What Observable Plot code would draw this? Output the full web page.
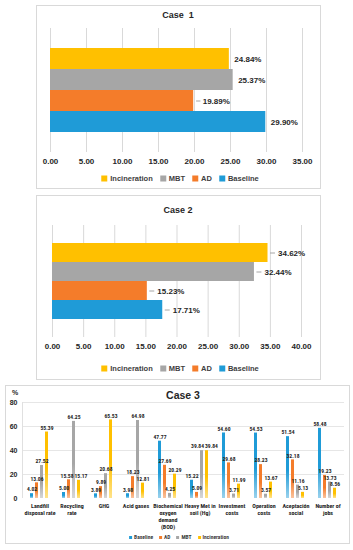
<!DOCTYPE html>
<html>
<head>
<meta charset="utf-8">
<script src="https://cdn.jsdelivr.net/npm/d3@7"></script>
<script src="https://cdn.jsdelivr.net/npm/@observablehq/plot@0.6"></script>
<style>
  html, body { margin: 0; padding: 0; background: #fff; }
  #root { position: relative; width: 353px; height: 550px; overflow: hidden; font-family: "Liberation Sans", Arial, sans-serif; color: #262626; }
  .box { position: absolute; border: 1px solid #d9d9d9; box-sizing: border-box; background: #fff; }
  .title { position: absolute; font-weight: bold; white-space: pre; transform: translate(-50%, -50%); color: #262626; }
  .legend { position: absolute; display: flex; align-items: center; transform: translate(-50%, -50%); font-weight: bold; white-space: nowrap; color: #404040; }
  .legend .item { display: flex; align-items: center; }
  .legend .sw { display: inline-block; }
</style>
</head>
<body>
<div id="root"></div>
<script>
// ---------------- DATA ----------------
const seriesOrder = ["Incineration", "MBT", "AD", "Baseline"];
const seriesColors = ["#ffc000", "#a6a6a6", "#f47c2a", "#1f9bd7"];

const case1Values = [24.84, 25.37, 19.89, 29.90];
const case1Ticks = [0, 5, 10, 15, 20, 25, 30, 35];

const case2Values = [34.62, 32.44, 15.23, 17.71];
const case2Ticks = [0, 5, 10, 15, 20, 25, 30, 35, 40];

const case3Categories = ["Landfill disposal rate", "Recycling rate", "GHG", "Acid gases",
  "Biochemical oxygen demand (BOD)", "Heavy Met in soil (Hg)", "Investment costs",
  "Operation costs", "Aceptación social", "Number of jobs"];
const case3TickLabels = ["Landfill\ndisposal rate", "Recycling\nrate", "GHG", "Acid gases",
  "Biochemical\noxygen\ndemand\n(BOD)", "Heavy Met in\nsoil (Hg)", "Investment\ncosts",
  "Operation\ncosts", "Aceptación\nsocial", "Number of\njobs"];
const case3Series = ["Baseline", "AD", "MBT", "Incineration"];
const case3Baseline     = [4.02, 5.00, 3.89, 3.98, 47.77, 15.22, 54.60, 54.53, 51.54, 58.48];
const case3AD           = [13.06, 15.58, 9.89, 18.23, 27.69, 5.09, 29.68, 28.23, 32.18, 19.23];
const case3MBT          = [27.52, 64.25, 20.68, 64.98, 4.25, 39.84, 3.71, 3.57, 11.16, 13.73];
const case3Incineration = [55.39, 15.17, 65.53, 12.81, 20.29, 39.84, 11.99, 13.67, 5.13, 8.56];
const case3Ticks = [0, 20, 40, 60, 80];

// ---------------- HELPERS ----------------
const FONT = '"Liberation Sans", Arial, sans-serif';
// use a narrow face for the dense Case 3 labels when one is installed
const NARROW_CANDIDATES = ['"Liberation Sans Narrow"', '"Roboto Condensed"', '"Open Sans Condensed"'];
function measure(font) {
  const ctx = document.createElement("canvas").getContext("2d");
  ctx.font = "bold 20px " + font;
  return ctx.measureText("Biochemical Heavy Met in").width;
}
const baseW = measure(FONT);
let NARROW = null;
for (const f of NARROW_CANDIDATES) {
  const w = measure(f + ", " + FONT);
  if (w < baseW * 0.92) { NARROW = f + ", " + FONT; break; }
}
const C3FONT = NARROW || FONT;
const C3CAT_SIZE = NARROW ? 6 : 5.2;
const C3VAL_SIZE = NARROW ? 5.6 : 5.1;

const root = document.getElementById("root");
const colorOf = s => seriesColors[seriesOrder.indexOf(s)];

function place(el, left, top) {
  el.style.position = "absolute";
  el.style.left = left + "px";
  el.style.top = top + "px";
  root.appendChild(el);
  return el;
}
function box(left, top, w, h) {
  const d = document.createElement("div");
  d.className = "box";
  d.style.width = w + "px"; d.style.height = h + "px";
  return place(d, left, top);
}
function title(text, cx, cy, size) {
  const d = document.createElement("div");
  d.className = "title";
  d.textContent = text;
  d.style.fontSize = size + "px";
  return place(d, cx, cy);
}
function legend(items, cx, cy, size, sw, gap, swGap, font) {
  const d = document.createElement("div");
  d.className = "legend";
  d.style.fontSize = size + "px";
  d.style.gap = gap + "px";
  if (font) d.style.fontFamily = font;
  items.forEach(s => {
    const it = document.createElement("div");
    it.className = "item";
    const m = document.createElement("span");
    m.className = "sw";
    m.style.width = sw + "px"; m.style.height = sw + "px";
    m.style.background = colorOf(s);
    m.style.marginRight = swGap + "px";
    it.appendChild(m);
    it.appendChild(document.createTextNode(s));
    d.appendChild(it);
  });
  return place(d, cx, cy);
}

function hbar(values, ticks, o) {
  const data = seriesOrder.map((s, i) => ({series: s, value: values[i]}));
  const fmt = d3.format(".2f");
  const leaderData = data.filter(d => o.leaders.includes(d.series));
  return Plot.plot({
    width: o.width, height: o.height,
    marginLeft: o.ml, marginRight: o.mr, marginTop: o.mt, marginBottom: o.mb,
    style: {fontFamily: FONT, background: "transparent", overflow: "visible"},
    x: {domain: [0, ticks[ticks.length - 1]], label: null},
    y: {domain: seriesOrder, paddingInner: 0, paddingOuter: o.pad, axis: null},
    color: {domain: seriesOrder, range: seriesColors},
    marks: [
      Plot.gridX(ticks, {stroke: "#d9d9d9", strokeOpacity: 1}),
      Plot.axisX(ticks, {tickSize: 0, tickPadding: 6, fontSize: 8, fontWeight: "bold", fill: "#262626", tickFormat: fmt, label: null}),
      Plot.barX(data, {y: "series", x: "value", fill: "series"}),
      Plot.ruleY(leaderData, {y: "series", x1: d => d.value + o.l1, x2: d => d.value + o.l2, stroke: "#a6a6a6"}),
      Plot.text(data, {y: "series", x: "value", text: d => fmt(d.value) + "%", textAnchor: "start",
        fontSize: 8, fontWeight: "bold", fill: "#262626"})
    ]
  });
}

// ---------------- CASE 1 ----------------
box(36, 5, 285, 184);
const c1 = hbar(case1Values, case1Ticks, {
  width: 284, height: 183, ml: 14, mr: 18, mt: 23, mb: 36, pad: 0.85,
  leaders: ["AD"], l1: 0.4, l2: 1.0
});
d3.select(c1).selectAll("g[aria-label='text'] text").each(function(_, i) {
  d3.select(this).attr("dx", seriesOrder[i] === "AD" ? 9 : 5);
});
place(c1, 36, 5);
title("Case  1", 178, 15, 9);
legend(seriesOrder, 180, 178, 7.5, 6, 7, 3);

// ---------------- CASE 2 ----------------
box(36, 195, 285, 185);
const c2 = hbar(case2Values, case2Ticks, {
  width: 284, height: 185, ml: 16, mr: 19, mt: 30, mb: 43, pad: 0.835,
  leaders: seriesOrder, l1: 0.4, l2: 1.2
});
d3.select(c2).selectAll("g[aria-label='text'] text").attr("dx", 10);
place(c2, 36, 195);
title("Case 2", 178, 210, 9);
legend(seriesOrder, 180, 368, 7.5, 6, 7, 3);

// ---------------- CASE 3 ----------------
box(5, 385, 345, 159);
const seriesVals = {Baseline: case3Baseline, AD: case3AD, MBT: case3MBT, Incineration: case3Incineration};
const data3 = case3Categories.flatMap((c, i) => case3Series.map(s => ({category: c, series: s, value: seriesVals[s][i]})));
const labelOf = new Map(case3Categories.map((c, i) => [c, case3TickLabels[i]]));
const c3 = Plot.plot({
  width: 343, height: 158,
  marginLeft: 17, marginRight: 4, marginTop: 17, marginBottom: 45,
  style: {fontFamily: FONT, background: "transparent", overflow: "visible"},
  fx: {domain: case3Categories, paddingInner: 0.35, paddingOuter: 0.175, label: null},
  x: {domain: case3Series, paddingInner: 0.35, paddingOuter: 0, axis: null},
  y: {domain: [0, 80], label: null},
  color: {domain: case3Series, range: case3Series.map((s, i) => `url(#c3grad${i})`)},
  marks: [
    Plot.ruleY(case3Ticks.filter(t => t > 0), {stroke: "#e6e6e6", insetLeft: -6, insetRight: -6}),
    Plot.axisY(case3Ticks, {tickSize: 0, tickPadding: 12, fontSize: 7, fontWeight: "bold", fill: "#262626", label: null}),
    Plot.axisFx({anchor: "bottom", tickSize: 0, tickPadding: 5, fontSize: C3CAT_SIZE, fontWeight: "bold", fill: "#262626",
      fontFamily: C3FONT, lineHeight: 1.15, tickFormat: d => labelOf.get(d), label: null}),
    Plot.barY(data3, {fx: "category", x: "series", y: "value", fill: "series"}),
    Plot.text(data3, {fx: "category", x: "series", y: "value", text: d => d.value.toFixed(2), dy: -4,
      fontSize: C3VAL_SIZE, fontFamily: C3FONT, fontWeight: "bold", fill: "#262626"})
  ]
});
const defs = d3.select(c3).insert("defs", ":first-child");
case3Series.forEach((s, i) => {
  const base = d3.color(colorOf(s)).formatHex();
  const light = d3.interpolateRgb(colorOf(s), "#ffffff")(0.55);
  const g = defs.append("linearGradient").attr("id", `c3grad${i}`)
    .attr("x1", 0).attr("y1", 0).attr("x2", 0).attr("y2", 1);
  g.append("stop").attr("offset", "0%").attr("stop-color", base);
  g.append("stop").attr("offset", "55%").attr("stop-color", base);
  g.append("stop").attr("offset", "100%").attr("stop-color", light);
});
place(c3, 5, 385);

// nudge colliding value labels apart horizontally (like the spreadsheet's label placement)
(function separateLabels() {
  const groups = d3.select(c3).selectAll("g[aria-label='text']").nodes();
  const valueGroup = groups[groups.length - 1];
  const texts = Array.from(valueGroup.querySelectorAll("text"));
  const base = texts.map(t => t.getAttribute("transform") || "");
  const shift = texts.map(() => 0);
  for (let iter = 0; iter < 8; iter++) {
    let moved = false;
    const rects = texts.map(t => t.getBoundingClientRect());
    for (let i = 0; i < texts.length; i++) {
      for (let j = i + 1; j < texts.length; j++) {
        const a = rects[i], b = rects[j];
        const ox = Math.min(a.right, b.right) - Math.max(a.left, b.left);
        const oy = Math.min(a.bottom, b.bottom) - Math.max(a.top, b.top);
        if (ox > -0.5 && oy > 0.5) {
          const push = (ox + 0.8) / 2;
          const [l, r] = (a.left + a.right) <= (b.left + b.right) ? [i, j] : [j, i];
          shift[l] -= push; shift[r] += push;
          moved = true;
        }
      }
    }
    texts.forEach((t, k) => t.setAttribute("transform", (base[k] + ` translate(${shift[k].toFixed(2)},0)`).trim()));
    if (!moved) break;
  }
})();

// y-axis line of case 3
const axisLine = document.createElement("div");
axisLine.style.width = "0px"; axisLine.style.height = "96px";
axisLine.style.borderLeft = "1px solid #e0e0e0";
place(axisLine, 22, 402);
title("Case 3", 183, 395, 10.5);
title("%", 15, 392, 7);
legend(case3Series, 179, 537, 5.5, 3, 6, 2, C3FONT);
</script>
</body>
</html>
